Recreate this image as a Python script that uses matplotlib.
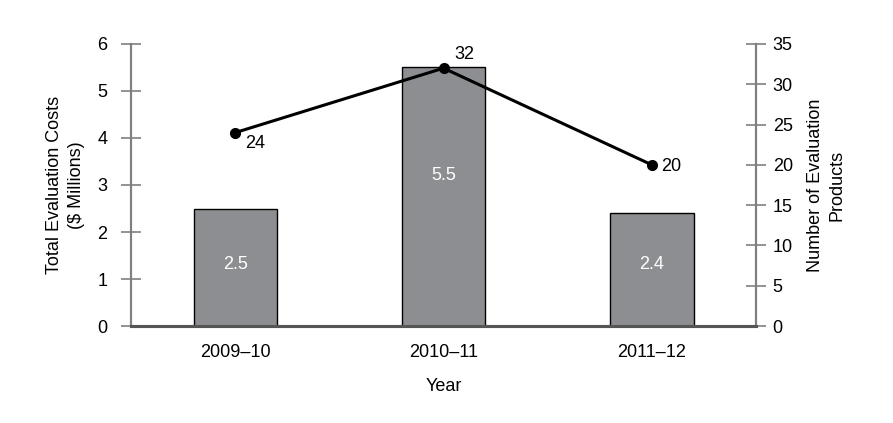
import matplotlib
matplotlib.use("Agg")
import matplotlib.pyplot as plt

# データ
years = ["2009\u201310", "2010\u201311", "2011\u201312"]
costs = [2.5, 5.5, 2.4]          # $ Millions (左軸)
products = [24, 32, 20]          # 件数 (右軸)

plt.rcParams["font.family"] = ["Liberation Sans", "DejaVu Sans"]
plt.rcParams["font.size"] = 13

fig = plt.figure(figsize=(8.93, 4.23), dpi=100)
ax = fig.add_axes([0.1467, 0.2293, 0.6999, 0.6667])
ax2 = ax.twinx()

x = list(range(len(years)))
ax.bar(x, costs, width=0.4, color="#8d8e91", edgecolor="black", linewidth=1, zorder=2)
# バー内ラベルの高さ（見た目調整）
label_y = [1.3, 3.2, 1.3]
for xi, v, ly in zip(x, costs, label_y):
    ax.text(xi, ly, f"{v}", color="white", ha="center", va="center", fontsize=13, zorder=3)

ax.set_xlim(-0.5, 2.5)
ax.set_ylim(0, 6)
ax.set_yticks(range(0, 7))
ax.set_xticks(x)
ax.set_xticklabels(years)
ax.set_xlabel("Year", labelpad=12)
ax.set_ylabel("Total Evaluation Costs\n($ Millions)", labelpad=9, linespacing=1.4)

ax2.plot(x, products, color="black", linewidth=2.2, marker="o", markersize=7, zorder=4)
ax2.set_ylim(0, 35)
ax2.set_yticks(range(0, 36, 5))
ax2.set_ylabel("Number of Evaluation\nProducts", labelpad=10, linespacing=1.4)
offsets = [(7, -8), (8, 10), (7, -1)]
for xi, v, off in zip(x, products, offsets):
    ax2.annotate(str(v), (xi, v), xytext=off, textcoords="offset points",
                 ha="left", va="center", fontsize=13)

grey = "#7f7f7f"
for a in (ax, ax2):
    a.spines["top"].set_visible(False)
    a.spines["left"].set_color(grey)
    a.spines["right"].set_color(grey)
    a.spines["left"].set_linewidth(1.5)
    a.spines["right"].set_linewidth(1.5)
    a.spines["bottom"].set_color("#555555")
    a.spines["bottom"].set_linewidth(2.2)
ax.tick_params(axis="y", direction="inout", length=14, width=1.2, color=grey, pad=10)
ax2.tick_params(axis="y", direction="inout", length=14, width=1.2, color=grey, pad=5)
ax.tick_params(axis="x", length=0, pad=13)

fig.savefig("out.png", dpi=100)
